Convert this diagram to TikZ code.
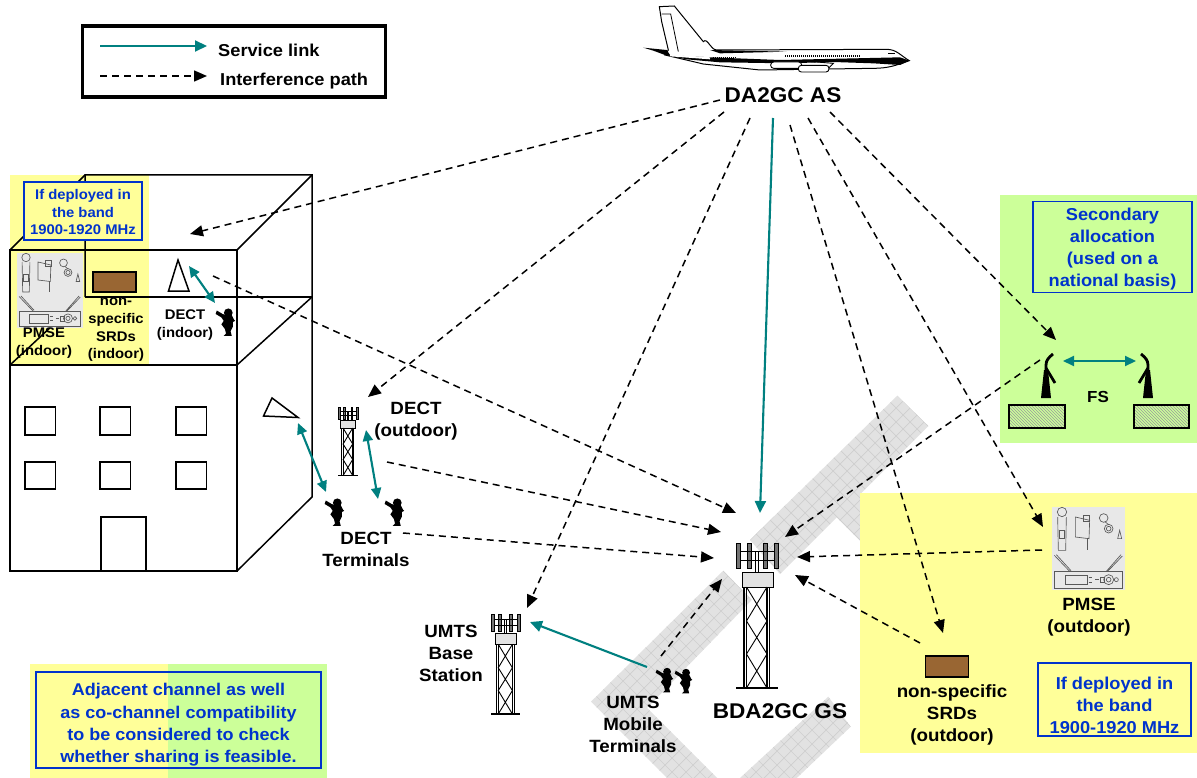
\documentclass[tikz,border=0pt]{standalone}
\usepackage{fontspec}
\setmainfont{Liberation Sans}[FakeStretch=1.06]
\usetikzlibrary{arrows.meta,patterns}
\definecolor{teallink}{HTML}{008080}
\definecolor{bluetxt}{HTML}{0033CC}
\definecolor{softyellow}{HTML}{FFFF99}
\definecolor{softgreen}{HTML}{CCFF99}
\definecolor{brownbox}{HTML}{996633}
\definecolor{rwgrey}{HTML}{E2E2E2}
\definecolor{rwline}{HTML}{CFCFCF}
\tikzset{
  servicelink/.style={draw=teallink,line width=2.1pt,-{Triangle[length=12pt,width=11pt]}},
  serviceboth/.style={draw=teallink,line width=2.1pt,{Triangle[length=11pt,width=10pt]}-{Triangle[length=11pt,width=10pt]}},
  interf/.style={draw=black,line width=1.5pt,dash pattern=on 7pt off 5pt,-{Triangle[length=13pt,width=11pt]}},
  lbl/.style={align=center,inner sep=0pt,yshift=-1pt,font=\bfseries\fontsize{17.7}{22}\selectfont},
  smalllbl/.style={align=center,inner sep=0pt,font=\bfseries\fontsize{14}{17.7}\selectfont},
  bigsmall/.style={align=center,inner sep=0pt,font=\bfseries\fontsize{21.3}{24}\selectfont},
  bluelbl/.style={align=center,inner sep=0pt,text=bluetxt,font=\bfseries\fontsize{17.2}{22}\selectfont},
  bluesmall/.style={align=center,inner sep=0pt,text=bluetxt,font=\bfseries\fontsize{14}{17.5}\selectfont},
  bluebox/.style={draw=bluetxt,line width=1.2pt,inner sep=0pt},
  bldg/.style={draw=black,line width=1.5pt},
  tower/.pic={
    \foreach \a in {-21,-10,6,17}{\fill[black!55,draw=black,line width=.5pt] (\a,-145) rectangle (\a+4,-120);}
    \draw[line width=1pt] (-17,-137)--(17,-137) (-17,-128)--(17,-128) (-1.5,-137)--(-1.5,-116) (1.5,-137)--(1.5,-116);
    \draw[fill=rwgrey,line width=1pt] (-15,-116) rectangle (16,-101);
    \draw[line width=1.1pt] (-13,-101)--(-13,0) (-10.5,-101)--(-10.5,0) (10,-101)--(10,0) (12.5,-101)--(12.5,0);
    \draw[line width=.9pt] (-10.5,-101)--(10,-67)--(-10.5,-34)--(10,0) (10,-101)--(-10.5,-67)--(10,-34)--(-10.5,0);
    \draw[line width=1.3pt] (-21,0)--(21,0);
  },
  person/.pic={
    \begin{scope}[scale=1.15]
    \fill (2,-8) circle[radius=3.8];
    \fill (-8,-10)--(-3,-7)--(0,-6)--(5,-6)--(7,-2)--(8,-1)--(6,0)--(6,4)--(4,8)--(5,12)--(-2,12)--(0,10)--(-1,6)--(-4,2)--(-2,-1)--(-4,-4)--(-9,-7)--cycle;
    \end{scope}
  },
  pmsepic/.pic={
    \begin{scope}[scale=1/3,shift={(-65,-35)},draw=black!65,line width=.65pt]
      \fill[rwgrey!80!white] (65,35) rectangle (285,285);
      \draw (95,50) circle[radius=14];
      \draw (82,65)--(84,165)--(106,165)--(108,65);
      \draw (87,105) rectangle (103,130);
      \draw (135,65)--(178,75)--(176,130)--(135,125)--cycle;
      \draw (172,130)--(172,165) (160,60) rectangle (178,78);
      \draw (220,68) circle[radius=13];
      \draw (235,100) circle[radius=13] (235,100) circle[radius=7];
      \draw (225,80)--(235,88) (262,130)--(268,105)--(274,130)--cycle;
      \draw (72,228) rectangle (275,278);
      \draw (105,240) rectangle (170,268);
      \draw (235,253) circle[radius=15] (235,253) circle[radius=7];
      \draw (258,253) circle[radius=6];
      \draw (195,253)--(205,253) (175,246)--(185,246) (175,260)--(185,260) (210,245) rectangle (222,262);
      \draw (72,180)--(118,228) (78,178)--(122,226);
      \draw (272,178)--(228,228) (276,182)--(232,228);
    \end{scope}
  },
  fsant/.pic={
    \fill (-5,0)--(-2,-28)--(2,-28)--(5,0)--cycle;
    \draw[line width=2.8pt] (0,-25)--(0,-33) to[out=90,in=220] (7,-44);
    \draw[line width=2.8pt] (0,-30)--(9,-15);
  }
}
\begin{document}
\begin{tikzpicture}[x=1pt,y=-1pt]
\useasboundingbox (0,0) rectangle (1197,778);
\fill[white] (0,0) rectangle (1197,778);

% ---- runways
\begin{scope}
  \clip (897.3,395.7)--(928.3,426)--(860,494.3)--(905,520)--(860,540.7)--(836.7,517.3)--(780,574)--(750,540)--cycle
        (591,701.7)--(723.3,570.7)--(751.7,600)--(647,708)--(717,778)--(667,778)--cycle
        (740,778)--(828.3,696.7)--(850.7,726.7)--(796.7,778)--cycle;
  \fill[rwgrey] (560,380) rectangle (960,778);
  \foreach \k in {-420,-406,...,840}{
    \draw[rwline,line width=.7pt] (560+\k,380)--(560+\k+420,800);
    \draw[rwline,line width=.7pt] (560+\k,380)--(560+\k-420,800);
  }
\end{scope}

% ---- coloured zones
\fill[softyellow] (860,493) rectangle (1197,753);
\fill[softgreen] (1000,195) rectangle (1197,443);
\fill[softyellow] (30,664) rectangle (168,778);
\fill[softgreen] (168,664) rectangle (327,778);
\fill[softyellow] (10,175) rectangle (149,365);

% ---- legend
\node[draw=black,line width=3.5pt,minimum width=303pt,minimum height=71pt,inner sep=0pt] (legend) at (234,61.5) {};
\coordinate (lgsA) at (100,46); \coordinate (lgsB) at (207,46);
\coordinate (lgiA) at (100,76); \coordinate (lgiB) at (207,76);
\draw[servicelink] (lgsA)--(lgsB);
\draw[interf] (lgiA)--(lgiB);
\node[lbl,anchor=west,font=\bfseries\fontsize{17.2}{22}\selectfont] (lgsT) at (218,49) {Service link};
\node[lbl,anchor=west,font=\bfseries\fontsize{17.2}{22}\selectfont] (lgiT) at (220,80.5) {Interference path};

% ---- aircraft
\begin{scope}[shift={(620,0)},scale=1/3]
  \draw[line width=1pt,fill=white] (118,20)--(163,18)--(250,125) to[out=50,in=180] (290,150)--(800,148) to[out=0,in=150] (868,182) to[out=200,in=0] (760,205)--(420,210)--(250,192)--(135,165)--(145,150)--(125,65)--cycle;
  \draw[line width=.8pt] (125,42)--(152,42)--(175,155);
  \fill (70,143)--(140,150)--(150,165)--(135,165)--(100,152)--cycle;
  \fill (270,150)--(500,155)--(300,160)--cycle;
  \fill (135,165)--(270,172)--(480,180)--(840,172)--(868,182)--(840,195)--(760,190)--(640,186)--(500,190)--(300,187)--(200,178)--cycle;
  \draw[white,line width=2pt] (150,166)--(270,175);
  \draw[black,line width=1.3pt,dash pattern=on 1.2pt off .8pt] (278,172)--(345,172) (495,168)--(720,168);
  \draw[line width=.9pt,fill=white,rounded corners=3pt] (452,186) rectangle (545,205);
  \draw[line width=.9pt,fill=white,rounded corners=3pt] (535,196) rectangle (627,216);
  \draw[line width=.9pt] (540,182)--(640,190)--(625,205);
  \fill (805,160) rectangle (825,163);
\end{scope}
\node[bigsmall] (as) at (783,95) {DA2GC AS};

% ---- building
\draw[bldg] (10,250) rectangle (237,365);
\draw[bldg] (10,365) rectangle (237,571);
\draw[bldg] (85,297)--(85,175)--(312,175)--(312,497)--(237,571);
\draw[bldg] (85,297)--(312,297);
\draw[bldg] (237,250)--(312,175) (237,365)--(312,297) (10,250)--(85,175) (10,365)--(53,325);
\foreach \x in {25,100,176}{
  \draw[bldg] (\x,407) rectangle (\x+30.5,435);
  \draw[bldg] (\x,462) rectangle (\x+30.5,489);
}
\draw[bldg] (101,517) rectangle (146,571);

\node[bluebox,fill=softyellow,minimum width=118pt,minimum height=58pt] (ifband) at (83,211) {};
\node[bluesmall] (ifbandtxt) at (83,212) {If deployed in\\the band\\1900-1920 MHz};
\pic[scale=.9] at (17,253) {pmsepic};
\node[draw=black,line width=1.5pt,fill=brownbox,minimum width=43pt,minimum height=20pt,inner sep=0pt] (srdin) at (114.5,282) {};
\node[smalllbl] (pmsein) at (44,343) {PMSE\\(indoor)};
\node[smalllbl] (srdtxt) at (116,330) {non-\\specific\\SRDs\\(indoor)};
\node[smalllbl] (dectin) at (185,325) {DECT\\(indoor)};
\draw[line width=1.5pt,fill=white] (178,260)--(168.5,291)--(189,291)--cycle;
\draw[line width=1.5pt,fill=white] (272,398)--(263.5,416)--(298,417.5)--cycle;
\pic at (226,322) {person};

% ---- DECT towers and terminals
\pic[scale=.47] at (348,475.5) {tower};
\pic at (335,512) {person};
\pic at (395,512) {person};
\node[lbl] (dectout) at (416,420) {DECT\\(outdoor)};
\node[lbl] (dectterm) at (366,548.5) {DECT\\Terminals};

% ---- UMTS
\pic[scale=.69] at (505.5,714) {tower};
\node[lbl] (umtsbs) at (451,652) {UMTS\\Base\\Station};
\pic[scale=.9] at (665,680) {person};
\pic[scale=.9] at (684,681) {person};
\node[lbl] (umtsmt) at (633,723) {UMTS\\Mobile\\Terminals};

% ---- ground station
\pic at (757,688) {tower};
\node[bigsmall] (gs) at (780,711) {BDA2GC GS};

% ---- FS
\node[bluebox,minimum width=159pt,minimum height=91pt] (secalloc) at (1112.5,247) {};
\node[bluelbl] (secalloctxt) at (1112.5,249) {Secondary\\allocation\\(used on a\\national basis)};
\node[draw=black,line width=1.5pt,pattern=north west lines,pattern color=gray!80,minimum width=56pt,minimum height=23pt,inner sep=0pt] (fsbaseL) at (1037,416.5) {};
\node[draw=black,line width=1.5pt,pattern=north west lines,pattern color=gray!80,minimum width=55pt,minimum height=23pt,inner sep=0pt] (fsbaseR) at (1161.5,416.5) {};
\pic at (1046,398) {fsant};
\pic[xscale=-1] at (1148,398) {fsant};
\node[lbl,font=\bfseries\fontsize{16}{20}\selectfont] (fstxt) at (1098,396) {FS};

% ---- outdoor PMSE and SRD
\pic at (1052,507) {pmsepic};
\node[lbl] (pmseout) at (1089,616) {PMSE\\(outdoor)};
\node[draw=black,line width=1.5pt,fill=brownbox,minimum width=43pt,minimum height=21pt,inner sep=0pt] (srdout) at (947,666.5) {};
\node[lbl] (srdouttxt) at (952,714) {non-specific\\SRDs\\(outdoor)};
\node[bluebox,minimum width=153pt,minimum height=73pt] (ifband2) at (1114.5,699.5) {};
\node[bluelbl] (ifband2txt) at (1114.5,705) {If deployed in\\the band\\1900-1920 MHz};
\node[bluebox,minimum width=285pt,minimum height=96pt] (adjacent) at (178.5,720) {};
\node[bluelbl,font=\bfseries\fontsize{17}{22.3}\selectfont] (adjacenttxt) at (178.5,725) {Adjacent channel as well\\as co-channel compatibility\\to be considered to check\\whether sharing is feasible.};

% ---- connector ends
\coordinate (a1) at (720,100); \coordinate (t1) at (190,234);
\coordinate (a2) at (724,112); \coordinate (t2) at (368,397);
\coordinate (a3) at (750,118); \coordinate (t3) at (527,608);
\coordinate (a4) at (773,118); \coordinate (t4) at (760,513);
\coordinate (a5) at (790,125); \coordinate (t5) at (943,633);
\coordinate (a6) at (808,118); \coordinate (t6) at (1043,527);
\coordinate (a7) at (830,112); \coordinate (t7) at (1056,340);
\coordinate (a8) at (1040,360); \coordinate (t8) at (785,537);
\coordinate (a9) at (1042,550); \coordinate (t9) at (797,557);
\coordinate (a10) at (920,643); \coordinate (t10) at (795,575);
\coordinate (a11) at (213,276); \coordinate (t11) at (736,513);
\coordinate (a12) at (387,462); \coordinate (t12) at (721,532);
\coordinate (a13) at (403,533); \coordinate (t13) at (714,558);
\coordinate (a14) at (661,656); \coordinate (t14) at (722,579);
\coordinate (a15) at (647,667); \coordinate (t15) at (530,622);
\coordinate (b1) at (189,266); \coordinate (b2) at (215,303);
\coordinate (b3) at (298,423); \coordinate (b4) at (326,492);
\coordinate (b5) at (366,430); \coordinate (b6) at (378,499);
\coordinate (b7) at (1063,361); \coordinate (b8) at (1136,361);

\foreach \n in {1,2,3,5,6,7,8,9,10,11,12,13,14}{\draw[interf] (a\n)--(t\n);}
\draw[servicelink] (a4)--(t4);
\draw[servicelink] (a15)--(t15);
\draw[serviceboth] (b1)--(b2);
\draw[serviceboth] (b3)--(b4);
\draw[serviceboth] (b5)--(b6);
\draw[serviceboth] (b7)--(b8);
\end{tikzpicture}
\end{document}
